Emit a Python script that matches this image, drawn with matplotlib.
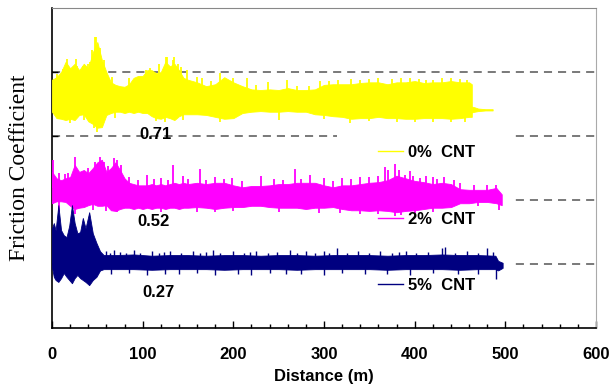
# friction coefficient vs sliding distance for the CNT samples

import matplotlib
matplotlib.use('Agg')
import matplotlib.pyplot as plt
from matplotlib.patches import Rectangle
from matplotlib.ticker import MultipleLocator

# stations: 5 m apart up to 150 m, then 10 m
STEP_A = [0, 5, 10, 15, 20, 25, 30, 35, 40, 45, 50, 55, 60, 65, 70, 75, 80, 85,
          90, 95, 100, 105, 110, 115, 120, 125, 130, 135, 140, 145, 150]
STEP_B = [160, 170, 180, 190, 200, 210, 220, 230, 240, 250, 260, 270, 280, 290,
          300, 310, 320, 330, 340, 350, 360, 370, 380, 390, 400, 410, 420, 430,
          440, 450, 460]

# 0% CNT (offset trace, arbitrary stacked units)
dist_0 = STEP_A + STEP_B + [463]
upper_0 = [3.88, 3.92, 4.00, 4.16, 4.06, 4.13, 4.03, 4.13, 4.06, 4.31, 4.47,
           4.19, 4.00, 3.84, 3.80, 3.78, 3.77, 3.81, 3.91, 3.94, 3.94, 4.03,
           4.03, 3.98, 4.00, 4.16, 4.09, 4.13, 4.03, 3.91, 3.88,
           3.84, 3.78, 3.81, 3.92, 3.84, 3.78, 3.73, 3.72, 3.73, 3.72, 3.75,
           3.72, 3.72, 3.73, 3.80, 3.81, 3.81, 3.81, 3.83, 3.84, 3.84, 3.81,
           3.84, 3.84, 3.86, 3.83, 3.84, 3.84, 3.86, 3.84, 3.84, 3.81]
lower_0 = [3.38, 3.28, 3.27, 3.25, 3.27, 3.25, 3.33, 3.34, 3.23, 3.19, 3.13,
           3.14, 3.33, 3.36, 3.38, 3.38, 3.36, 3.38, 3.36, 3.38, 3.36, 3.36,
           3.31, 3.28, 3.27, 3.30, 3.28, 3.25, 3.31, 3.34, 3.34,
           3.34, 3.33, 3.30, 3.27, 3.28, 3.36, 3.38, 3.39, 3.38, 3.38, 3.39,
           3.38, 3.38, 3.34, 3.33, 3.31, 3.30, 3.27, 3.28, 3.28, 3.30, 3.28,
           3.28, 3.27, 3.27, 3.28, 3.28, 3.28, 3.27, 3.28, 3.30, 3.30]
tail_0_x = [463, 466, 470, 478, 486]
tail_0_up = [3.46, 3.45, 3.43, 3.42, 3.42]
tail_0_lo = [3.37, 3.38, 3.39, 3.40, 3.40]
peaks_0_x = [5, 12, 16, 18, 23, 26, 28, 34, 38, 40, 42, 44, 47, 48, 51, 53, 57,
             66, 85, 95, 104, 108, 113, 118, 123, 126, 127, 134, 135, 139, 142,
             149, 160, 165, 175, 185, 200, 215, 225, 238, 259, 270, 283, 296,
             305, 315, 330, 340, 350, 360, 375, 385, 395, 405, 412, 420, 430,
             440, 450, 458]
peaks_0_y = [3.97, 4.05, 4.20, 4.10, 4.06, 4.20, 4.10, 4.09, 4.08, 4.13, 4.16,
             4.34, 4.55, 4.55, 4.34, 4.38, 4.19, 3.92, 3.90, 3.93, 4.03, 4.06,
             3.98, 4.13, 4.00, 4.23, 4.23, 4.19, 4.23, 4.13, 4.08, 4.03, 3.92,
             3.90, 3.86, 3.98, 3.90, 3.90, 3.80, 3.84, 3.88, 3.78, 3.78, 3.86,
             3.86, 3.88, 3.89, 3.88, 3.89, 3.91, 3.89, 3.90, 3.91, 3.89, 3.88,
             3.88, 3.91, 3.90, 3.89, 3.88]
dips_0_x = [8, 20, 35, 46, 50, 53, 70, 115, 125, 145, 185, 250, 300, 329, 350,
            380, 400, 420, 440, 455]
dips_0_y = [3.27, 3.20, 3.25, 3.13, 3.06, 3.14, 3.28, 3.24, 3.22, 3.25, 3.22,
            3.25, 3.27, 3.20, 3.24, 3.22, 3.22, 3.22, 3.22, 3.22]

# 2% CNT
dist_2 = STEP_A + STEP_B + [470, 480, 490, 496]
upper_2 = [2.44, 2.34, 2.31, 2.34, 2.36, 2.55, 2.44, 2.47, 2.42, 2.50, 2.59,
           2.63, 2.44, 2.50, 2.59, 2.47, 2.34, 2.27, 2.25, 2.23, 2.23, 2.23,
           2.25, 2.23, 2.25, 2.23, 2.25, 2.27, 2.25, 2.27, 2.25,
           2.27, 2.25, 2.27, 2.27, 2.23, 2.20, 2.22, 2.22, 2.23, 2.25, 2.25,
           2.27, 2.27, 2.27, 2.23, 2.20, 2.23, 2.23, 2.25, 2.27, 2.28, 2.31,
           2.38, 2.34, 2.30, 2.28, 2.25, 2.27, 2.25, 2.17, 2.16,
           2.16, 2.16, 2.19, 2.09]
lower_2 = [1.95, 1.98, 1.98, 1.97, 1.91, 1.86, 1.88, 1.89, 1.92, 1.94, 1.91,
           1.91, 1.92, 1.84, 1.83, 1.86, 1.88, 1.88, 1.86, 1.88, 1.86, 1.88,
           1.86, 1.88, 1.88, 1.86, 1.88, 1.88, 1.86, 1.88, 1.88,
           1.89, 1.88, 1.86, 1.88, 1.89, 1.89, 1.91, 1.91, 1.89, 1.88, 1.88,
           1.88, 1.86, 1.88, 1.88, 1.89, 1.86, 1.84, 1.84, 1.83, 1.84, 1.83,
           1.81, 1.83, 1.84, 1.86, 1.88, 1.88, 1.89, 1.95, 1.95,
           1.97, 1.97, 1.95, 1.92]
peaks_2_x = [1, 8, 14, 18, 25, 40, 47, 53, 57, 62, 68, 72, 76, 85, 95, 105, 112,
             120, 128, 134, 145, 150, 163, 170, 180, 190, 198, 210, 230, 245,
             255, 268, 275, 285, 300, 310, 320, 330, 340, 350, 360, 367, 371,
             378, 383, 389, 395, 398, 406, 412, 420, 425, 432, 443, 450, 465,
             480, 490]
peaks_2_y = [2.63, 2.42, 2.41, 2.42, 2.67, 2.50, 2.59, 2.67, 2.59, 2.53, 2.66,
             2.63, 2.55, 2.36, 2.31, 2.39, 2.33, 2.34, 2.31, 2.55, 2.38, 2.33,
             2.48, 2.31, 2.36, 2.33, 2.34, 2.30, 2.38, 2.33, 2.31, 2.48, 2.33,
             2.39, 2.34, 2.30, 2.34, 2.33, 2.36, 2.36, 2.38, 2.52, 2.47, 2.56,
             2.47, 2.39, 2.45, 2.38, 2.34, 2.38, 2.36, 2.33, 2.36, 2.31, 2.27,
             2.23, 2.23, 2.23]
dips_2_x = [8, 25, 45, 60, 72, 120, 160, 180, 200, 250, 295, 318, 340, 360, 378,
            385, 400, 420, 470, 493]
dips_2_y = [1.81, 1.78, 1.84, 1.83, 1.81, 1.81, 1.81, 1.81, 1.83, 1.81, 1.80,
            1.80, 1.78, 1.78, 1.75, 1.77, 1.80, 1.81, 1.91, 1.84]

# 5% CNT
dist_5 = [0, 2, 4, 7, 10, 13, 16, 19, 22, 25, 28, 31, 34, 37, 41, 45, 49, 53, 57,
          70, 90, 110, 130, 150, 170, 190, 210, 230, 250, 270, 290, 310, 330,
          350, 370, 390, 410, 430, 450, 470, 489, 492, 497]
upper_5 = [1.56, 1.64, 1.53, 1.92, 1.53, 1.45, 1.42, 1.60, 1.92, 1.64, 1.48, 1.50,
           1.72, 1.56, 1.81, 1.48, 1.33, 1.20, 1.14, 1.14, 1.15, 1.13, 1.14, 1.14,
           1.13, 1.14, 1.14, 1.13, 1.14, 1.14, 1.13, 1.14, 1.14, 1.14, 1.13, 1.14,
           1.14, 1.15, 1.14, 1.14, 1.13, 1.05, 1.02]
lower_5 = [0.95, 0.80, 0.75, 0.72, 0.78, 0.86, 0.80, 0.75, 0.70, 0.78, 0.83, 0.78,
           0.75, 0.72, 0.67, 0.75, 0.80, 0.90, 0.92, 0.92, 0.92, 0.91, 0.92, 0.92,
           0.92, 0.91, 0.92, 0.92, 0.92, 0.91, 0.92, 0.92, 0.92, 0.92, 0.91, 0.92,
           0.92, 0.92, 0.91, 0.92, 0.92, 0.90, 0.94]
peaks_5_x = [60, 64, 68, 75, 82, 90, 97, 110, 118, 124, 130, 142, 155, 163, 170,
             178, 185, 200, 212, 218, 225, 238, 248, 262, 270, 280, 290, 300,
             306, 314, 325, 338, 350, 362, 375, 383, 390, 402, 415, 430, 433,
             445, 458, 470, 480, 486]
peaks_5_y = [1.20, 1.18, 1.22, 1.19, 1.17, 1.22, 1.18, 1.20, 1.17, 1.19, 1.21,
             1.18, 1.20, 1.17, 1.19, 1.22, 1.18, 1.20, 1.17, 1.19, 1.21, 1.18,
             1.19, 1.22, 1.17, 1.20, 1.18, 1.21, 1.17, 1.25, 1.18, 1.20, 1.17,
             1.21, 1.18, 1.19, 1.20, 1.17, 1.19, 1.25, 1.26, 1.18, 1.20, 1.17,
             1.25, 1.19]
dips_5_x = [65, 85, 105, 125, 140, 160, 180, 205, 220, 240, 258, 275, 300, 320,
            345, 370, 395, 420, 448, 470, 490]
dips_5_y = [0.84, 0.86, 0.83, 0.85, 0.84, 0.86, 0.83, 0.85, 0.83, 0.86, 0.84,
            0.85, 0.83, 0.86, 0.84, 0.85, 0.83, 0.86, 0.84, 0.85, 0.77]

labels = ['0%  CNT', '2%  CNT', '5%  CNT']
colors = ['#ffff00', '#ff00ff', '#000080']
mean_text = ['0.71', '0.52', '0.27']
mean_x = [114, 112, 118]
mean_y = [3.03, 1.66, 0.55]
grid_levels = [1, 2, 3, 4]

SANS = 'Liberation Sans'


def add_trace(ax, x, up, lo, px, py, dx, dy, color, label, spike_lw=1.3):
    ax.fill_between(x, lo, up, color=color, lw=0.6, zorder=3)
    mid = [(u + l) / 2 for u, l in zip(up, lo)]

    def base(v):
        # nearest band centre for a spike
        i = min(range(len(x)), key=lambda k: abs(x[k] - v))
        return mid[i]

    ax.vlines(px, [base(v) for v in px], py, color=color, lw=spike_lw, zorder=3)
    ax.vlines(dx, dy, [base(v) for v in dx], color=color, lw=spike_lw, zorder=3)
    # legend handle
    ax.plot([], [], color=color, lw=1.0, label=label)


if __name__ == '__main__':
    fig = plt.figure(figsize=(6.11, 3.85), dpi=100, facecolor='w')
    ax = fig.add_axes([0.0851, 0.148, 0.8904, 0.831])

    for lev in grid_levels:
        ax.axhline(lev, color='#555555', lw=1.1, ls=(0, (5.3, 3.9)), zorder=1)

    # white legend area hides the gridlines
    ax.add_patch(Rectangle((0.524, 0.09), 0.323, 0.55, transform=ax.transAxes,
                           facecolor='w', edgecolor='none', zorder=2))

    add_trace(ax, dist_0, upper_0, lower_0, peaks_0_x, peaks_0_y,
              dips_0_x, dips_0_y, colors[0], labels[0])
    ax.fill_between(tail_0_x, tail_0_lo, tail_0_up, color=colors[0], lw=0.6,
                    zorder=3)
    add_trace(ax, dist_2, upper_2, lower_2, peaks_2_x, peaks_2_y,
              dips_2_x, dips_2_y, colors[1], labels[1])
    add_trace(ax, dist_5, upper_5, lower_5, peaks_5_x, peaks_5_y,
              dips_5_x, dips_5_y, colors[2], labels[2], spike_lw=1.0)

    for t, x, y in zip(mean_text, mean_x, mean_y):
        ax.text(x, y, t, ha='center', va='center', fontsize=12,
                fontweight='bold', family=SANS, zorder=4)

    ax.set_xlim(0, 600)
    ax.set_ylim(0, 5)
    ax.xaxis.set_major_locator(MultipleLocator(100))
    ax.xaxis.set_minor_locator(MultipleLocator(20))
    ax.set_yticks(grid_levels)
    ax.set_yticklabels([])
    ax.tick_params(axis='x', which='major', direction='in', length=5, width=1,
                   pad=14)
    ax.tick_params(axis='x', which='minor', direction='in', length=3, width=1)
    ax.tick_params(axis='y', direction='in', length=4, width=1)
    for lab in ax.get_xticklabels():
        lab.set_fontweight('bold')
        lab.set_fontsize(12)
        lab.set_family(SANS)

    ax.spines['left'].set_linewidth(1.2)
    ax.spines['bottom'].set_linewidth(1.2)
    ax.spines['right'].set_color('#aaaaaa')
    ax.spines['top'].set_color('#888888')
    ax.spines['top'].set_linewidth(0.8)

    ax.set_xlabel('Distance (m)', fontsize=12, fontweight='bold', family=SANS,
                  labelpad=5)
    ax.set_ylabel('Friction Coefficient', fontsize=17, family='Liberation Serif',
                  labelpad=12)

    leg = ax.legend(loc='upper left', bbox_to_anchor=(0.599, 0.5725),
                    frameon=False,
                    prop={'family': SANS, 'weight': 'bold', 'size': 12},
                    handlelength=1.5, handletextpad=0.3, labelspacing=3.1,
                    borderaxespad=0, borderpad=0)

    plt.savefig('out.png', dpi=100, facecolor='w')
